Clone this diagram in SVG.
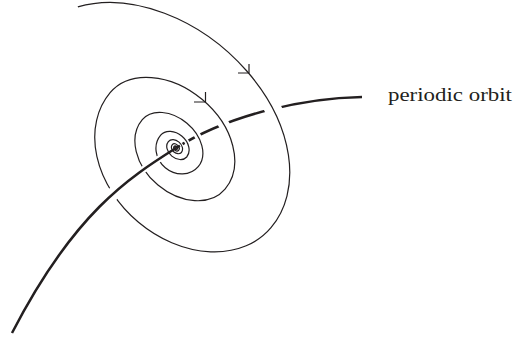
<svg xmlns="http://www.w3.org/2000/svg" width="517" height="342" viewBox="0 0 517 342">
<style>
.sp{fill:none;stroke:#231f20;stroke-width:1.2}
.thick{fill:none;stroke:#231f20;stroke-width:2.5}
.halo{fill:none;stroke:#fff}
.lbl{font-family:"Liberation Serif","Times New Roman",serif;font-size:18px;fill:#231f20}
</style>
<rect width="517" height="342" fill="#fff"/>
<g id="orbit-behind">
  <path class="thick" d="M176,148 C230,114 305,98 362,97"/>
</g>
<g id="spiral">
  <path class="halo" stroke-width="17" d="M77.84,6.89 A152,107 40 0 1 270.99,227.71"/>
  <path class="halo" stroke-width="11" d="M110.12,92.72 A75,54 40 0 1 225.03,189.14"/>
  <path class="halo" stroke-width="6.5" d="M142.29,119.72 A36.5,26 40 0 1 198.22,166.64"/>
  <path class="halo" stroke-width="4.5" d="M160.68,135.14 A17,13 40 0 1 186.72,157"/>
  <path class="halo" stroke-width="3" d="M168.34,141.57 A8.5,6.5 40 0 1 181.36,152.5"/>
  <path class="sp" d="M77.84,6.89 A152,107 40 0 1 270.99,227.71 A105,81 40 0 1 110.12,92.72 A75,54 40 0 1 225.03,189.14 A54,40 40 0 1 142.29,119.72 A36.5,26 40 0 1 198.22,166.64 A24.5,22 40 0 1 160.68,135.14 A17,13 40 0 1 186.72,157 A12,9 40 0 1 168.34,141.57 A8.5,6.5 40 0 1 181.36,152.5 A6,4.5 40 0 1 172.17,144.79 A4.25,3.2 40 0 1 178.68,150.25 A3,2.3 40 0 1 174.08,146.39 A2.1,1.6 40 0 1 177.3,149.09 A1.45,1.1 40 0 1 175.08,147.23 A1,0.8 40 0 1 176.61,148.51"/>
  <path class="sp" d="M238,73 H249 V64"/>
  <path class="sp" d="M194,102 H205.5 V92"/>
</g>
<g id="orbit-front">
  <path class="halo" stroke-width="13" pathLength="100" stroke-dasharray="78 200" d="M12,333 C74,213 128.5,178 176,148"/>
  <path class="halo" stroke-width="7" pathLength="100" stroke-dasharray="0 78 17 200" d="M12,333 C74,213 128.5,178 176,148"/>
  <path class="thick" d="M12,333 C74,213 128.5,178 176,148"/>
</g>
<g id="label">
  <text class="lbl" x="388" y="101" textLength="124" lengthAdjust="spacingAndGlyphs">periodic orbit</text>
</g>
</svg>
